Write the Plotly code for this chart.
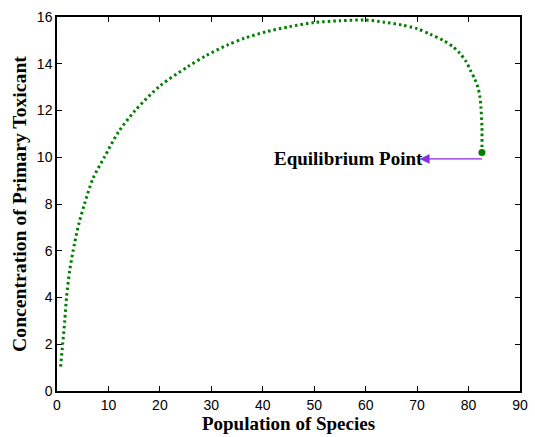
import plotly.graph_objects as go

species = [0.7, 1.1, 1.5, 1.85, 2.5, 3.4, 4.3, 5.35, 7.0, 9.2, 12.0, 15.2, 20.0, 25.4, 29.0,
           33.1, 36.5, 40.7, 45.0, 49.9, 55.0, 59.8, 63.6, 67.0, 70.0, 72.5, 75.1, 77.0,
           78.3, 79.5, 80.4, 81.2, 81.8, 82.2, 82.4, 82.6, 82.6]
toxicant = [1.04, 2.0, 3.0, 4.0, 5.2, 6.3, 7.2, 8.0, 9.1, 10.0, 11.1, 12.0, 13.05, 13.87, 14.35,
            14.8, 15.1, 15.37, 15.58, 15.76, 15.84, 15.87, 15.78, 15.66, 15.5, 15.27, 15.0, 14.72,
            14.45, 14.1, 13.7, 13.35, 13.0, 12.6, 12.15, 11.3, 10.2]
eq_x = [82.6]
eq_y = [10.2]
arrow_y = 9.93
arrow_tip_x = 70.5
label_x = 71.4

fig = go.Figure()
fig.add_trace(go.Scatter(x=species, y=toxicant, mode="lines",
                         line=dict(color="#008000", width=3, dash="2.5px,3px", shape="spline",
                                   smoothing=0.8),
                         showlegend=False, hoverinfo="skip"))
fig.add_trace(go.Scatter(x=eq_x, y=eq_y, mode="markers",
                         marker=dict(color="#008000", size=7, symbol="circle"),
                         showlegend=False))

fig.add_annotation(x=arrow_tip_x, y=arrow_y, ax=82.9, ay=arrow_y, xref="x", yref="y",
                   axref="x", ayref="y", text="", showarrow=True, arrowhead=2,
                   arrowsize=1.8, arrowwidth=1.1, arrowcolor="#8a2be2")
fig.add_annotation(x=label_x, y=arrow_y, xref="x", yref="y", text="<b>Equilibrium Point</b>",
                   showarrow=False, xanchor="right", yanchor="middle", borderpad=0,
                   font=dict(family="Liberation Serif", size=19, color="black"))

axis_common = dict(showgrid=False, zeroline=False, showline=True, linecolor="black", linewidth=1.5,
                   mirror="ticks", ticks="inside", ticklen=5, tickcolor="black", tickwidth=1,
                   tickfont=dict(family="Liberation Sans", size=14, color="black"))
fig.update_xaxes(range=[0, 90], dtick=10, tick0=0,
                 title=dict(text="<b>Population of Species</b>", standoff=4,
                            font=dict(family="Liberation Serif", size=19, color="black")),
                 **axis_common)
fig.update_yaxes(range=[0, 16], dtick=2, tick0=0,
                 title=dict(text="<b>Concentration of Primary Toxicant</b>", standoff=5,
                            font=dict(family="Liberation Serif", size=19.7, color="black")),
                 **axis_common)
fig.update_layout(width=535, height=437, margin=dict(l=57, r=7, t=17, b=46),
                  plot_bgcolor="white", paper_bgcolor="white")
fig.write_html("out.html")
